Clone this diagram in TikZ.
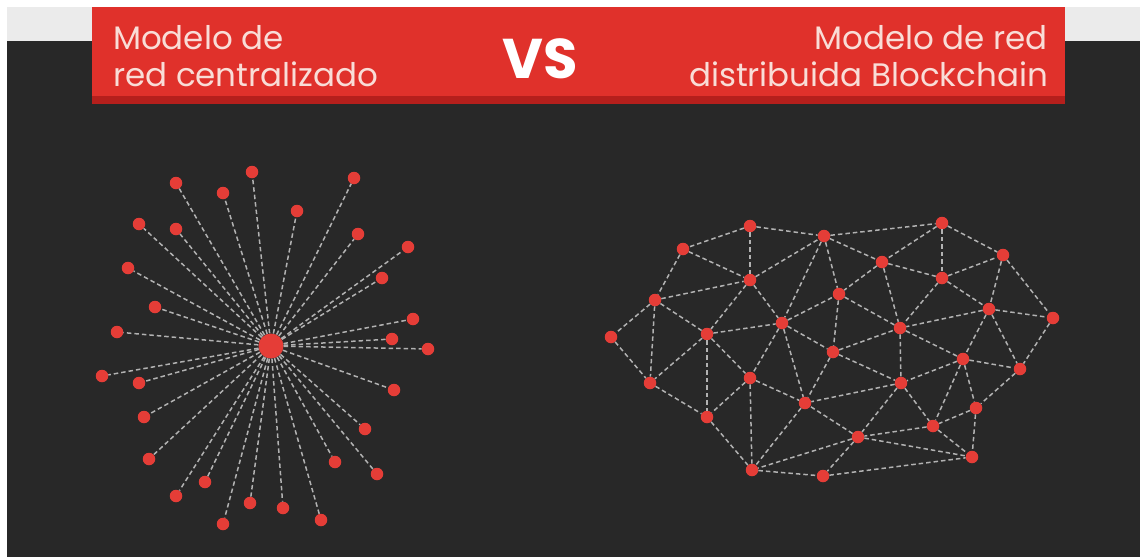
\documentclass[tikz,border=0pt]{standalone}
\usepackage{fontspec}
\setmainfont{Poppins}
\usepackage{tikz}
\usetikzlibrary{arrows}
\definecolor{bgdark}{HTML}{282828}
\definecolor{stripgray}{HTML}{EBEBEB}
\definecolor{bannerred}{HTML}{E0312B}
\definecolor{bannershade}{HTML}{B51F1C}
\definecolor{dotred}{HTML}{E53D37}
\definecolor{linkgray}{HTML}{B2B2B2}
\definecolor{titletext}{HTML}{F9DDD7}

\begin{document}
\begin{tikzpicture}[x=1pt,y=-1pt,
  main node/.style={circle,fill=dotred,inner sep=0pt,minimum size=12.5pt},
  hub node/.style={circle,fill=dotred,inner sep=0pt,minimum size=25pt},
  link/.style={draw=linkgray,line width=1.5pt,dash pattern=on 4.5pt off 3pt},
  title/.style={text=titletext,font=\fontsize{32.5}{36}\selectfont,inner sep=0pt}]
\useasboundingbox (0,0) rectangle (1140,557);

% Background and banner
  \fill[white] (0,0) rectangle (1140,557);
  \fill[stripgray] (7,7) rectangle (1140,41);
  \fill[bgdark] (7,41) rectangle (1140,557);
  \fill[bannershade] (92,7) rectangle (1065,104);
  \fill[bannerred] (92,7) rectangle (1065,96);

  \node[title,anchor=base west] (left1) at (113,49) {Modelo de};
  \node[title,anchor=base west] (left2) at (113,86) {red centralizado};
  \node[title,anchor=base east] (right1) at (1048,49) {Modelo de red};
  \node[title,anchor=base east] (right2) at (1048,86) {distribuida Blockchain};
  \node[text=white,inner sep=0pt,anchor=base,font=\fontsize{56}{60}\selectfont\bfseries] (vs) at (540,78) {VS};

% Centralized network
  \node[hub node] (c0) at (271,346) {};
  \node[main node] (p1) at (252,172) {};
  \node[main node] (p2) at (176,183) {};
  \node[main node] (p3) at (223,193) {};
  \node[main node] (p4) at (354,178) {};
  \node[main node] (p5) at (297,211) {};
  \node[main node] (p6) at (139,224) {};
  \node[main node] (p7) at (176,229) {};
  \node[main node] (p8) at (358,234) {};
  \node[main node] (p9) at (408,247) {};
  \node[main node] (p10) at (128,268) {};
  \node[main node] (p11) at (382,278) {};
  \node[main node] (p12) at (155,307) {};
  \node[main node] (p13) at (413,319) {};
  \node[main node] (p14) at (117,332) {};
  \node[main node] (p15) at (392,339) {};
  \node[main node] (p16) at (428,349) {};
  \node[main node] (p17) at (102,376) {};
  \node[main node] (p18) at (139,383) {};
  \node[main node] (p19) at (394,390) {};
  \node[main node] (p20) at (144,417) {};
  \node[main node] (p21) at (365,429) {};
  \node[main node] (p22) at (149,459) {};
  \node[main node] (p23) at (335,462) {};
  \node[main node] (p24) at (377,474) {};
  \node[main node] (p25) at (176,496) {};
  \node[main node] (p26) at (205,482) {};
  \node[main node] (p27) at (250,503) {};
  \node[main node] (p28) at (283,508) {};
  \node[main node] (p29) at (321,520) {};
  \node[main node] (p30) at (223,524) {};

  \path[link]
    (c0) edge (p1) (c0) edge (p2) (c0) edge (p3) (c0) edge (p4)
    (c0) edge (p5) (c0) edge (p6) (c0) edge (p7) (c0) edge (p8)
    (c0) edge (p9) (c0) edge (p10) (c0) edge (p11) (c0) edge (p12)
    (c0) edge (p13) (c0) edge (p14) (c0) edge (p15) (c0) edge (p16)
    (c0) edge (p17) (c0) edge (p18) (c0) edge (p19) (c0) edge (p20)
    (c0) edge (p21) (c0) edge (p22) (c0) edge (p23) (c0) edge (p24)
    (c0) edge (p25) (c0) edge (p26) (c0) edge (p27) (c0) edge (p28)
    (c0) edge (p29) (c0) edge (p30);

% Distributed network
  \node[main node] (d1) at (750,226) {};
  \node[main node] (d2) at (824,236) {};
  \node[main node] (d3) at (942,223) {};
  \node[main node] (d4) at (683,249) {};
  \node[main node] (d5) at (882,262) {};
  \node[main node] (d6) at (1003,255) {};
  \node[main node] (d7) at (750,280) {};
  \node[main node] (d8) at (839,294) {};
  \node[main node] (d9) at (942,278) {};
  \node[main node] (d10) at (655,300) {};
  \node[main node] (d11) at (782,323) {};
  \node[main node] (d12) at (900,328) {};
  \node[main node] (d13) at (989,309) {};
  \node[main node] (d14) at (1053,318) {};
  \node[main node] (d15) at (611,337) {};
  \node[main node] (d16) at (707,334) {};
  \node[main node] (d17) at (833,352) {};
  \node[main node] (d18) at (963,359) {};
  \node[main node] (d19) at (650,383) {};
  \node[main node] (d20) at (750,378) {};
  \node[main node] (d21) at (901,383) {};
  \node[main node] (d22) at (1020,369) {};
  \node[main node] (d23) at (805,403) {};
  \node[main node] (d24) at (707,417) {};
  \node[main node] (d25) at (976,408) {};
  \node[main node] (d26) at (933,426) {};
  \node[main node] (d27) at (858,437) {};
  \node[main node] (d28) at (752,470) {};
  \node[main node] (d29) at (823,476) {};
  \node[main node] (d30) at (972,457) {};

  \path[link]
    (d1) edge (d4) (d1) edge (d2) (d1) edge (d7)
    (d4) edge (d7) (d4) edge (d10)
    (d7) edge (d2) (d2) edge (d3) (d2) edge (d5) (d2) edge (d8) (d2) edge (d11)
    (d3) edge (d5) (d3) edge (d9) (d3) edge (d6)
    (d5) edge (d9) (d5) edge (d8) (d5) edge (d12)
    (d9) edge (d6) (d9) edge (d12) (d9) edge (d13)
    (d6) edge (d13) (d6) edge (d14)
    (d13) edge (d14) (d13) edge (d12) (d13) edge (d18) (d13) edge (d22)
    (d14) edge (d22)
    (d10) edge (d7) (d10) edge (d16) (d10) edge (d15) (d10) edge (d19)
    (d15) edge (d19)
    (d7) edge (d11) (d7) edge (d16)
    (d16) edge (d11) (d16) edge (d19) (d16) edge (d24) (d16) edge (d20)
    (d11) edge (d8) (d11) edge (d17) (d11) edge (d20) (d11) edge (d23)
    (d8) edge (d17) (d8) edge (d12)
    (d17) edge (d12) (d17) edge (d23) (d17) edge (d21)
    (d12) edge (d21) (d12) edge (d18)
    (d18) edge (d21) (d18) edge (d22) (d18) edge (d25) (d18) edge (d26)
    (d22) edge (d25)
    (d21) edge (d26) (d21) edge (d27) (d21) edge (d23)
    (d25) edge (d26) (d25) edge (d30)
    (d26) edge (d30) (d26) edge (d27)
    (d27) edge (d30) (d27) edge (d29) (d27) edge (d28) (d27) edge (d23)
    (d28) edge (d29) (d29) edge (d30)
    (d19) edge (d24)
    (d20) edge (d24) (d20) edge (d23) (d20) edge (d28)
    (d24) edge (d28) (d23) edge (d28);

\end{tikzpicture}
\end{document}
